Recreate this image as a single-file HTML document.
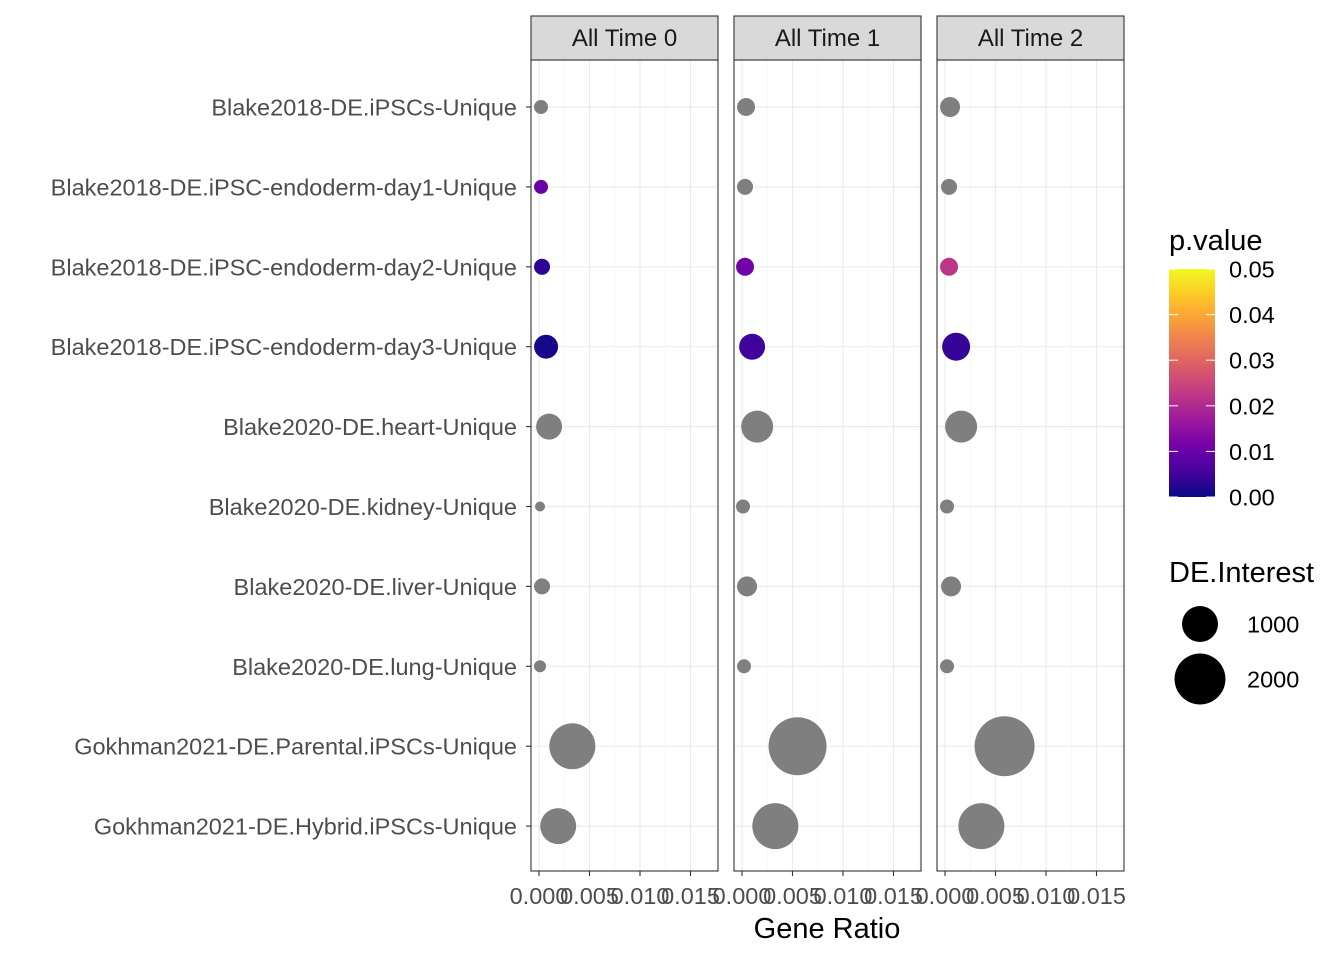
<!DOCTYPE html>
<html><head><meta charset="utf-8"><style>
body{margin:0;background:#fff;}
svg text{font-family:"Liberation Sans",sans-serif;}
</style></head><body>
<svg id="chart" width="1344" height="960" xmlns="http://www.w3.org/2000/svg">
<g id="grid"></g><g id="pts"></g><g id="frames"></g>
</svg>
<script>
const categories=["Blake2018-DE.iPSCs-Unique","Blake2018-DE.iPSC-endoderm-day1-Unique","Blake2018-DE.iPSC-endoderm-day2-Unique","Blake2018-DE.iPSC-endoderm-day3-Unique","Blake2020-DE.heart-Unique","Blake2020-DE.kidney-Unique","Blake2020-DE.liver-Unique","Blake2020-DE.lung-Unique","Gokhman2021-DE.Parental.iPSCs-Unique","Gokhman2021-DE.Hybrid.iPSCs-Unique"];
const panels=["All Time 0","All Time 1","All Time 2"];
const ratioT0=[0.0002,0.0002,0.0003,0.0007,0.001,0.0001,0.0003,0.0001,0.0033,0.0019];
const ratioT1=[0.0004,0.0003,0.0003,0.001,0.0015,0.0001,0.0005,0.0002,0.0055,0.0033];
const ratioT2=[0.0005,0.0004,0.0004,0.0011,0.0016,0.0002,0.0006,0.0002,0.0059,0.0036];
const interestT0=[151,151,198,445,522,77,198,111,1634,1000];
const interestT1=[250,198,250,522,791,151,309,151,2598,1634];
const interestT2=[309,198,250,605,791,151,309,151,2780,1634];
const pvalT0=[null,0.01,0.003,0.001,null,null,null,null,null,null];
const pvalT1=[null,null,0.011,0.005,null,null,null,null,null,null];
const pvalT2=[null,null,0.022,0.004,null,null,null,null,null,null];
const xTicks=[0,0.005,0.01,0.015];
const xTickLabels=["0.000","0.005","0.010","0.015"];
const pTicks=[0,0.01,0.02,0.03,0.04,0.05];
const sizeLegend=[1000,2000];

const NS="http://www.w3.org/2000/svg";
function mk(tag,attrs,parent,txt){const e=document.createElementNS(NS,tag);for(const k in attrs)e.setAttribute(k,attrs[k]);if(txt!=null)e.textContent=txt;parent.appendChild(e);return e;}
const svg=document.getElementById('chart');
const G=document.getElementById('grid'),P=document.getElementById('pts'),F=document.getElementById('frames');
const panelX=[531,734,937],panelW=187,plotTop=60,plotBot=871;
const xScale=(i,v)=>panelX[i]+8+v*10100;
const yScale=j=>107+j*79.9;
const rScale=n=>0.569*Math.sqrt(n);
const plasma=["#0d0887","#46039f","#7201a8","#9c179e","#bd3786","#d8576b","#ed7953","#fb9f3a","#fdca26","#f0f921"];
function lerpHex(a,b,t){const pa=[1,3,5].map(i=>parseInt(a.substr(i,2),16)),pb=[1,3,5].map(i=>parseInt(b.substr(i,2),16));return "rgb("+pa.map((v,k)=>Math.round(v+(pb[k]-v)*t)).join(",")+")";}
function pColor(p){if(p==null)return "#7f7f7f";let t=Math.max(0,Math.min(1,p/0.05))*(plasma.length-1);const i=Math.min(Math.floor(t),plasma.length-2);return lerpHex(plasma[i],plasma[i+1],t-i);}
const ratios=[ratioT0,ratioT1,ratioT2],ints=[interestT0,interestT1,interestT2],pvals=[pvalT0,pvalT1,pvalT2];

panels.forEach((name,i)=>{
  const x0=panelX[i];
  const bg=mk('rect',{x:x0,y:plotTop,width:panelW,height:plotBot-plotTop,fill:'#fff'},G);
  
  
  for(let v=-0.0025;v<=0.0175;v+=0.005){const gx=xScale(i,v);if(gx>x0&&gx<x0+panelW)mk('line',{x1:gx,x2:gx,y1:plotTop,y2:plotBot,stroke:'#f2f2f2','stroke-width':0.6},G);}
  xTicks.forEach(v=>{const gx=xScale(i,v);const l=mk('line',{x1:gx,x2:gx,y1:plotTop,y2:plotBot,stroke:'#ebebeb','stroke-width':1.2},G);
    
    });
  categories.forEach((c,j)=>{const l=mk('line',{x1:x0,x2:x0+panelW,y1:yScale(j),y2:yScale(j),stroke:'#ebebeb','stroke-width':1.2},G);
    
    });
  categories.forEach((c,j)=>{
    const cc=mk('circle',{cx:xScale(i,ratios[i][j]),cy:yScale(j),r:rScale(ints[i][j]),fill:pColor(pvals[i][j])},P);
    
    
  });
  const fr=mk('rect',{x:x0,y:plotTop,width:panelW,height:plotBot-plotTop,fill:'none',stroke:'#333','stroke-width':1.1},F);
  
  
  const st=mk('rect',{x:x0,y:16,width:panelW,height:44,fill:'#d9d9d9',stroke:'#333','stroke-width':1.1},F);
  
  
  const stt=mk('text',{x:x0+panelW/2,y:46,'text-anchor':'middle','font-size':24,fill:'#1a1a1a'},F,name);
  
  
  xTicks.forEach((v,k)=>{const gx=xScale(i,v);mk('line',{x1:gx,x2:gx,y1:plotBot,y2:plotBot+5,stroke:'#333','stroke-width':1.1},F);
    const t=mk('text',{x:gx,y:904,'text-anchor':'middle','font-size':23.5,fill:'#4d4d4d'},F,xTickLabels[k]);
    
    });
});
categories.forEach((c,j)=>{
  mk('line',{x1:526,x2:531,y1:yScale(j),y2:yScale(j),stroke:'#333','stroke-width':1.1},F);
  const t=mk('text',{x:517,y:yScale(j)+8.5,'text-anchor':'end','font-size':23.5,fill:'#4d4d4d'},F,c);
  
  
});
const xt=mk('text',{x:827,y:938,'text-anchor':'middle','font-size':29,fill:'#000'},F,'Gene Ratio');


const lt=mk('text',{x:1169,y:250,'font-size':29,fill:'#000'},F,'p.value');


const defs=mk('defs',{},svg);const lg=mk('linearGradient',{id:'pg',x1:0,y1:1,x2:0,y2:0},defs);
plasma.forEach((c,k)=>mk('stop',{offset:k/(plasma.length-1),'stop-color':c},lg));
const cb=mk('rect',{x:1169,y:269,width:46,height:228,fill:'url(#pg)'},F);


pTicks.forEach(p=>{const y=497-p/0.05*228;
  mk('line',{x1:1169,x2:1178,y1:y,y2:y,stroke:'#fff','stroke-width':1},F);
  mk('line',{x1:1206,x2:1215,y1:y,y2:y,stroke:'#fff','stroke-width':1},F);
  const t=mk('text',{x:1229,y:y+8.5,'font-size':23.5,fill:'#000'},F,p.toFixed(2));
  
  });
const st2=mk('text',{x:1169,y:582,'font-size':29,fill:'#000'},F,'DE.Interest');


sizeLegend.forEach((n,k)=>{const y=624+k*55;
  const c=mk('circle',{cx:1200,cy:y,r:rScale(n),fill:'#000'},F);
  
  
  const t=mk('text',{x:1247,y:y+8.5,'font-size':23.5,fill:'#000'},F,String(n));
  
  });
</script>
</body></html>
